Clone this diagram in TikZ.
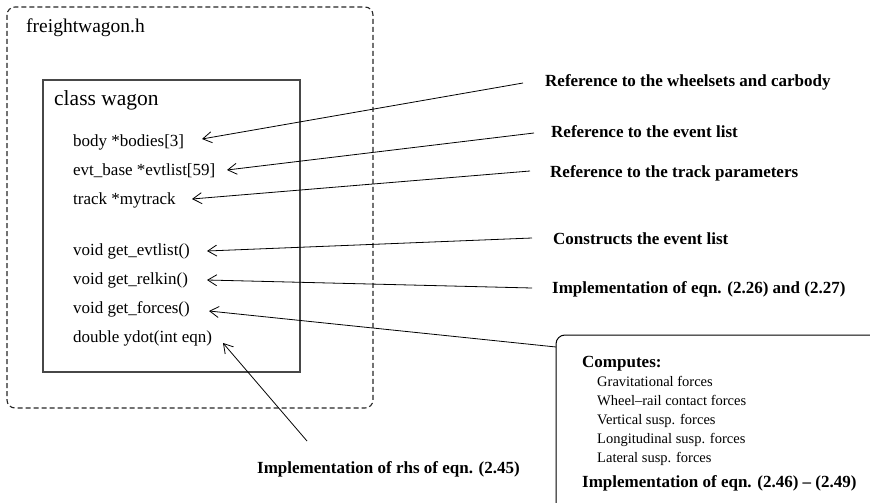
\documentclass[tikz,border=0pt]{standalone}
\usepackage{fontspec}
\setmainfont{Liberation Serif}
\usetikzlibrary{arrows.meta}
\begin{document}
\begin{tikzpicture}[x=1pt,y=-1pt,
  member/.style={anchor=base west, inner sep=0pt, font=\fontsize{17}{20}\selectfont},
  note/.style={anchor=base west, inner sep=0pt, font=\fontsize{17}{20}\selectfont\bfseries},
  item/.style={anchor=base west, inner sep=0pt, font=\fontsize{14.5}{17}\selectfont},
  pointer/.style={draw=black, line width=0.8pt, -{Straight Barb[length=9pt,width=11pt,line width=0.8pt]}},
]
\useasboundingbox (0,0) rectangle (870,503);
\clip (0,0) rectangle (870,503);

% header file frame
\draw[dash pattern=on 5pt off 3pt, line width=1.1pt, draw=black!85, rounded corners=8pt]
  (7,7) rectangle (373,408);
\node[anchor=base west, inner sep=0pt, font=\fontsize{19.5}{23}\selectfont] (file) at (26,33) {freightwagon.h};

% class frame
\draw[line width=1.2pt, draw=black!72] (43,80) rectangle (300,372);
\node[anchor=base west, inner sep=0pt, font=\fontsize{21.5}{25}\selectfont] (cls) at (54,106) {class wagon};

% class members
\node[member] (m1) at (73,146) {body *bodies[3]};
\node[member] (m2) at (73,175) {evt\_base *evtlist[59]};
\node[member] (m3) at (73,204) {track *mytrack};
\node[member] (m4) at (73,255) {void get\_evtlist()};
\node[member] (m5) at (73,284) {void get\_relkin()};
\node[member] (m6) at (73,313) {void get\_forces()};
\node[member] (m7) at (73,342) {double ydot(int eqn)};

% explanations
\node[note] (n1) at (545,86) {Reference to the wheelsets and carbody};
\node[note] (n2) at (551,137) {Reference to the event list};
\node[note] (n3) at (550,177) {Reference to the track parameters};
\node[note] (n4) at (553,244) {Constructs the event list};
\node[note] (n5) at (552,293) {Implementation of eqn. (2.26) and (2.27)};
\node[note] (n7) at (257,473) {Implementation of rhs of eqn. (2.45)};

% force computation callout
\draw[line width=1pt, rounded corners=9pt] (556,540) -- (556,335) -- (900,335) -- (900,540);
\node[note] (cmp) at (582,367) {Computes:};
\node[item] (f1) at (597,386) {Gravitational forces};
\node[item] (f2) at (597,405) {Wheel–rail contact forces};
\node[item] (f3) at (597,424) {Vertical susp. forces};
\node[item] (f4) at (597,443) {Longitudinal susp. forces};
\node[item] (f5) at (597,462) {Lateral susp. forces};
\node[note] (n6) at (582,487) {Implementation of eqn. (2.46) – (2.49)};

% connector ends
\coordinate (s1) at (523,83);  \coordinate (e1) at (202,139);
\coordinate (s2) at (534,133); \coordinate (e2) at (227,170);
\coordinate (s3) at (530,171); \coordinate (e3) at (192,199);
\coordinate (s4) at (532,238); \coordinate (e4) at (207,251);
\coordinate (s5) at (532,288); \coordinate (e5) at (207,280);
\coordinate (s6) at (556,347); \coordinate (e6) at (209,311);
\coordinate (s7) at (307,441); \coordinate (e7) at (223,343);

\foreach \i in {1,...,7} \draw[pointer] (s\i) -- (e\i);
\end{tikzpicture}
\end{document}
